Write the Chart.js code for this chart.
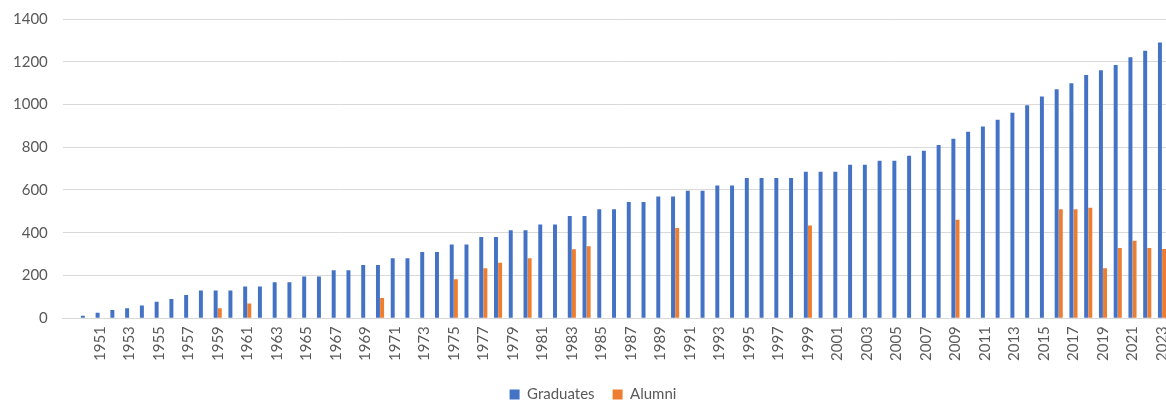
<!DOCTYPE html>
<html>
<head>
<meta charset="utf-8">
<script src="https://cdn.jsdelivr.net/npm/chart.js@4"></script>
<style>
  html, body { margin: 0; padding: 0; background: #fff; overflow: hidden; }
  #grafico { display: block; margin-left: -11px; margin-top: -5px; }
</style>
</head>
<body>
<canvas id="grafico" width="1199" height="417"></canvas>
<script>
// first category is blank, then 1950..2023
const years = ['',
  '1950','1951','1952','1953','1954','1955','1956','1957','1958','1959',
  '1960','1961','1962','1963','1964','1965','1966','1967','1968','1969',
  '1970','1971','1972','1973','1974','1975','1976','1977','1978','1979',
  '1980','1981','1982','1983','1984','1985','1986','1987','1988','1989',
  '1990','1991','1992','1993','1994','1995','1996','1997','1998','1999',
  '2000','2001','2002','2003','2004','2005','2006','2007','2008','2009',
  '2010','2011','2012','2013','2014','2015','2016','2017','2018','2019',
  '2020','2021','2022','2023'];

const graduates = [null,
  12, 25, 38, 46, 60, 77, 90, 108, 130, 130,
  130, 148, 148, 168, 168, 195, 195, 224, 224, 249,
  249, 281, 281, 310, 310, 345, 345, 380, 380, 411,
  411, 439, 439, 478, 478, 510, 510, 544, 544, 569,
  569, 596, 596, 621, 621, 656, 656, 656, 656, 685,
  685, 685, 718, 718, 737, 737, 760, 784, 811, 840,
  872, 897, 928, 961, 996, 1037, 1071, 1099, 1138, 1160,
  1185, 1221, 1251, 1290];

const alumni = [null,
  null, null, null, null, null, null, null, null, null, 47,
  null, 69, null, null, null, null, null, null, null, null,
  94, null, null, null, null, 182, null, 234, 259, null,
  281, null, null, 323, 337, null, null, null, null, null,
  422, null, null, null, null, null, null, null, null, 434,
  null, null, null, null, null, null, null, null, null, 461,
  null, null, null, null, null, null, 510, 510, 517, 234,
  328, 362, 328, 324];

const yTicks = [0, 200, 400, 600, 800, 1000, 1200, 1400];

Chart.defaults.font.family = 'Lato, "Open Sans", sans-serif';
Chart.defaults.font.size = 15;
Chart.defaults.color = '#595959';

const ctx = document.getElementById('grafico').getContext('2d');
new Chart(ctx, {
  type: 'bar',
  data: {
    labels: years,
    datasets: [
      {
        label: 'Graduates',
        data: graduates,
        backgroundColor: '#4472C4',
        categoryPercentage: 0.56,
        barPercentage: 0.96
      },
      {
        label: 'Alumni',
        data: alumni,
        backgroundColor: '#ED7D31',
        categoryPercentage: 0.56,
        barPercentage: 0.96
      }
    ]
  },
  options: {
    responsive: false,
    animation: false,
    layout: { padding: { left: 9, right: 0, top: 1, bottom: 0 } },
    plugins: {
      legend: {
        position: 'bottom',
        labels: { boxWidth: 10, boxHeight: 10, padding: 18 }
      },
      tooltip: { enabled: false }
    },
    scales: {
      x: {
        grid: { display: false, drawTicks: false },
        border: { color: '#d9d9d9', width: 1 },
        ticks: {
          autoSkip: false,
          minRotation: 90,
          maxRotation: 90,
          padding: 8,
          callback: function (val, i) {
            return i % 2 === 0 ? years[i] : '';
          }
        }
      },
      y: {
        min: 0,
        max: 1400,
        afterBuildTicks: function (axis) {
          axis.ticks = yTicks.map(v => ({ value: v }));
        },
        grid: { color: '#d9d9d9', lineWidth: 1, drawTicks: false },
        border: { display: false },
        ticks: {
          padding: 15,
          callback: function (v) { return String(v); }
        }
      }
    }
  }
});
</script>
</body>
</html>
